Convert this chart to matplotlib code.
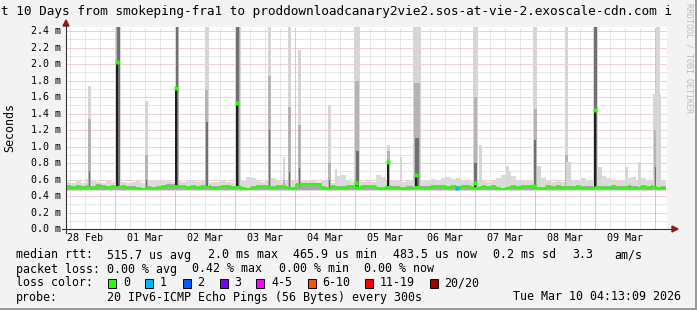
import matplotlib
matplotlib.use("Agg")
import matplotlib.pyplot as plt
import numpy as np
from matplotlib.patches import Rectangle, Polygon
from matplotlib.transforms import blended_transform_factory

# ---------------- data ----------------
# median rtt (ms), 2-hour buckets over the 240 h window
median_ms = [
    0.51, 0.50, 0.51, 0.50, 0.51, 0.50, 0.52, 0.51, 0.50, 0.51,
    0.51, 0.51, 0.50, 0.50, 0.49, 0.48, 0.50, 0.49, 0.50, 0.51,
    0.52, 0.52, 0.51, 0.51, 0.50, 0.51, 0.50, 0.51, 0.51, 0.50,
    0.50, 0.51, 0.51, 0.50, 0.51, 0.49, 0.48, 0.50, 0.51, 0.51,
    0.51, 0.50, 0.51, 0.51, 0.50, 0.49, 0.53, 0.54, 0.54, 0.54,
    0.54, 0.50, 0.49, 0.51, 0.50, 0.50, 0.51, 0.51, 0.50, 0.51,
    0.51, 0.51, 0.49, 0.49, 0.51, 0.50, 0.50, 0.49, 0.50, 0.50,
    0.51, 0.50, 0.50, 0.51, 0.51, 0.51, 0.50, 0.51, 0.50, 0.51,
    0.51, 0.50, 0.50, 0.51, 0.50, 0.51, 0.49, 0.48, 0.50, 0.51,
    0.50, 0.51, 0.51, 0.51, 0.50, 0.49, 0.51, 0.50, 0.51, 0.50,
    0.51, 0.50, 0.51, 0.50, 0.50, 0.50, 0.51, 0.50, 0.50, 0.51,
    0.50, 0.50, 0.51, 0.50, 0.50, 0.51, 0.50, 0.51, 0.50, 0.50,
]
# upper edge of the light smoke near the baseline (ms), 2-hour buckets
smoke_top_ms = [
    0.57, 0.56, 0.58, 0.56, 0.61, 0.60, 0.57, 0.56, 0.58, 0.57,
    0.56, 0.57, 0.56, 0.57, 0.58, 0.56, 0.59, 0.60, 0.59, 0.58,
    0.59, 0.57, 0.58, 0.57, 0.59, 0.59, 0.57, 0.58, 0.56, 0.57,
    0.57, 0.58, 0.57, 0.56, 0.58, 0.60, 0.63, 0.62, 0.58, 0.57,
    0.59, 0.62, 0.58, 0.57, 0.60, 0.58, 0.58, 0.59, 0.58, 0.58,
    0.57, 0.58, 0.59, 0.56, 0.64, 0.65, 0.60, 0.57, 0.58, 0.57,
    0.58, 0.57, 0.65, 0.63, 0.58, 0.58, 0.59, 0.57, 0.60, 0.58,
    0.57, 0.58, 0.60, 0.61, 0.60, 0.62, 0.63, 0.61, 0.62, 0.60,
    0.58, 0.57, 0.60, 0.58, 0.57, 0.58, 0.62, 0.66, 0.70, 0.64,
    0.60, 0.59, 0.58, 0.60, 0.66, 0.62, 0.58, 0.57, 0.58, 0.57,
    0.58, 0.60, 0.59, 0.62, 0.60, 0.59, 0.61, 0.64, 0.62, 0.60,
    0.58, 0.60, 0.62, 0.63, 0.60, 0.62, 0.60, 0.58, 0.63, 0.60,
]
# latency spikes: hour from window start, width (h), smoke levels (ms), median (ms)
spike_hour   = [9.4, 20.8, 32.2, 44.4, 56.2, 68.8, 81.4, 87.2, 89.4, 93.4, 105.4, 108.0,
                116.4, 129.0, 134.0, 140.4, 163.8, 165.8, 176.6, 187.6, 189.2, 200.2,
                201.0, 211.8, 213.6, 224.2, 229.4, 236.4, 236.8]
spike_width  = [1.4, 2.4, 1.2, 1.6, 1.6, 2.4, 1.4, 1.0, 1.4, 1.4, 1.2, 0.8,
                2.4, 1.2, 0.8, 3.0, 2.0, 1.0, 1.2, 1.6, 1.6, 1.2,
                2.0, 2.0, 1.6, 1.2, 1.2, 3.2, 1.6]
spike_light  = [1.73, 2.45, 1.55, 2.45, 2.45, 2.45, 2.45, 0.87, 2.45, 2.17, 1.51, 0.73,
                2.45, 1.02, 0.87, 2.45, 2.45, 1.02, 0.76, 2.45, 0.76, 2.45,
                0.81, 2.45, 0.75, 0.75, 0.81, 1.64, 2.45]
spike_mid    = [1.34, 2.45, 0.90, 2.45, 1.68, 2.45, 1.85, 0.60, 1.48, 1.26, 0.80, 0.00,
                1.80, 0.95, 0.00, 1.77, 1.60, 0.00, 0.00, 1.45, 0.00, 0.90,
                0.00, 2.00, 0.00, 0.00, 0.00, 1.20, 0.00]
spike_dark   = [0.70, 2.45, 0.60, 2.45, 1.30, 2.45, 1.20, 0.00, 0.69, 0.74, 0.60, 0.00,
                0.95, 0.81, 0.00, 1.10, 0.80, 0.00, 0.00, 1.08, 0.00, 0.00,
                0.00, 2.45, 0.00, 0.00, 0.00, 0.75, 0.00]
spike_median = [0.00, 2.02, 0.00, 1.71, 0.00, 1.53, 0.00, 0.00, 0.00, 0.00, 0.00, 0.00,
                0.56, 0.81, 0.00, 0.65, 0.56, 0.00, 0.00, 0.52, 0.00, 0.00,
                0.00, 1.44, 0.00, 0.00, 0.00, 0.00, 0.00]
loss1_hour = [156.4]
loss1_value = [0.50]

start_offset_to_midnight = 19.78   # hours from window start to 01 Mar 00:00
day_labels = ["28 Feb", "01 Mar", "02 Mar", "03 Mar", "04 Mar",
              "05 Mar", "06 Mar", "07 Mar", "08 Mar", "09 Mar"]
y_ticks = [0.0, 0.2, 0.4, 0.6, 0.8, 1.0, 1.2, 1.4, 1.6, 1.8, 2.0, 2.2, 2.4]

title = "t 10 Days from smokeping-fra1 to proddownloadcanary2vie2.sos-at-vie-2.exoscale-cdn.com i"
row_rtt = ["median rtt:", "515.7 us avg", "2.0 ms max", "465.9 us min",
           "483.5 us now", "0.2 ms sd", "3.3", "am/s"]
row_loss = ["packet loss:", "0.00 % avg", "0.42 % max", "0.00 % min", "0.00 % now"]
loss_labels = ["0", "1", "2", "3", "4-5", "6-10", "11-19", "20/20"]
loss_colors = ["#26ff00", "#00b8ff", "#0059ff", "#7e00ff", "#ff00ff", "#ff5500", "#ff0000", "#a10000"]
probe_text = "20 IPv6-ICMP Echo Pings (56 Bytes) every 300s"
stamp_text = "Tue Mar 10 04:13:09 2026"

# ---------------- layout ----------------
W, H = 697, 310
MONO = "DejaVu Sans Mono"
fig = plt.figure(figsize=(W / 100, H / 100), dpi=100)
fig.patch.set_facecolor("#F3F3F3")

X0, X1, YB, YT = 66, 667, 229, 27
ax = fig.add_axes([X0 / W, 1 - YB / H, (X1 - X0) / W, (YB - YT) / H])
ax.set_facecolor("white")
ax.set_xlim(0, 240.4)
ax.set_ylim(0, 2.45)
for s in ax.spines.values():
    s.set_visible(False)
ax.set_xticks([])
ax.set_yticks([])

ov = fig.add_axes([0, 0, 1, 1], zorder=5)
ov.set_xlim(0, W)
ov.set_ylim(H, 0)
ov.axis("off")
ov.patch.set_alpha(0)

dot = (0, (1, 1))
# grid
for v in np.arange(0.1, 2.45, 0.2):
    ax.axhline(v, color="#CFCFCF", lw=0.72, ls=dot, zorder=1)
for v in y_ticks[1:]:
    ax.axhline(v, color="#E6A0A0", lw=0.72, ls=dot, zorder=1)
minor_x = np.arange(start_offset_to_midnight - 18, 241, 6)
for h in minor_x:
    if h > 0:
        ax.axvline(h, color="#CFCFCF", lw=0.72, ls=dot, zorder=1)
for d in range(10):
    h = start_offset_to_midnight + 24 * d
    if h < 240:
        ax.axvline(h, color="#E6A0A0", lw=0.72, ls=dot, zorder=1)

# baseline smoke
t_edges = np.arange(0, 242, 2)
med = np.array(median_ms)
top = np.array(smoke_top_ms)
ax.stairs(top, t_edges, baseline=0.465, fill=True, color="#DADADA", zorder=2)
ax.stairs(med + 0.022, t_edges, baseline=0.47, fill=True, color="#A8A8A8", zorder=2)

# spikes
for h, w, lt, md, dk, mdn in zip(spike_hour, spike_width, spike_light, spike_mid, spike_dark, spike_median):
    ax.bar(h, lt - 0.5, w, bottom=0.5, color="#D6D6D6", zorder=3, linewidth=0)
    if md > 0:
        ax.bar(h, md - 0.5, w * 0.75, bottom=0.5, color="#B4B4B4", zorder=3, linewidth=0)
    if dk > 0:
        ax.bar(h, dk - 0.5, w * 0.5, bottom=0.5, color="#707070", zorder=3, linewidth=0)
    if mdn > 0:
        ax.bar(h - w * 0.15, mdn - 0.5, 0.8, bottom=0.5, color="#1E1E1E", zorder=4, linewidth=0)
        ax.plot([h - w * 0.15], [mdn], marker="s", ms=2.2, color="#26ff00", mec="none", zorder=6)

# median line
ax.stairs(med, t_edges, baseline=None, color="#26ff00", lw=1.4, zorder=5)
ax.plot(loss1_hour, loss1_value, marker="s", ms=2.2, color="#00b8ff", mec="none", ls="none", zorder=6)

# axes lines with arrows
ov.plot([62, 672], [YB, YB], color="#333333", lw=0.8)
ov.add_patch(Polygon([[672, YB - 3], [678, YB], [672, YB + 3]], closed=True, color="#8B1A1A"))
ov.plot([X0, X0], [YB + 4, 26], color="#333333", lw=0.8)
ov.add_patch(Polygon([[X0 - 3, 26], [X0, 20], [X0 + 3, 26]], closed=True, color="#8B1A1A"))

# tick labels
bx = blended_transform_factory(ax.transData, ov.transData)
for d, lab in enumerate(day_labels):
    h = start_offset_to_midnight - 12 + 24 * d
    ax.text(h, 238, lab, transform=bx, ha="center", va="center", fontsize=7.2, family=MONO)
by = blended_transform_factory(ov.transData, ax.transData)
for v in y_ticks:
    ax.text(61, v, f"{v:.1f} m", transform=by, ha="right", va="center", fontsize=7.2, family=MONO)

ov.text(10, 127, "Seconds", rotation=90, ha="center", va="center", fontsize=8.4, family=MONO)
ov.text(689, 3, "RRDTOOL / TOBI OETIKER", rotation=270, ha="center", va="top",
        fontsize=6, family=MONO, color="#BDBDBD")
ov.text(1, 11, title, ha="left", va="center", fontsize=9.15, family=MONO, zorder=7)

FS = 8.4
for x, s in zip([16, 107, 207.5, 293, 393, 493, 572, 614], row_rtt):
    ov.text(x, 255, s, ha="left", va="center", fontsize=FS, family=MONO)
for x, s in zip([16, 107, 192, 279, 364], row_loss):
    ov.text(x, 269, s, ha="left", va="center", fontsize=FS, family=MONO)
ov.text(16, 283, "loss color:", ha="left", va="center", fontsize=FS, family=MONO)
for bxp, tx, lab, col in zip([108, 145, 183, 219.5, 256, 307.5, 365, 430],
                             [123.5, 160, 197, 234, 271, 322, 380, 444],
                             loss_labels, loss_colors):
    ov.add_patch(Rectangle((bxp, 278.5), 8, 9, facecolor=col, edgecolor="black", lw=0.7))
    ov.text(tx, 283, lab, ha="left", va="center", fontsize=FS, family=MONO)
ov.text(16, 297, "probe:", ha="left", va="center", fontsize=FS, family=MONO)
ov.text(107, 297, probe_text, ha="left", va="center", fontsize=FS, family=MONO)
ov.text(513, 297, stamp_text, ha="left", va="center", fontsize=FS, family=MONO)

# 3D frame
ov.add_patch(Rectangle((694.5, 0), 2.5, H, color="#9A9A9A", lw=0))
ov.add_patch(Rectangle((0, 307.5), W, 2.5, color="#9A9A9A", lw=0))

fig.savefig("out.png", dpi=100, facecolor=fig.get_facecolor())
